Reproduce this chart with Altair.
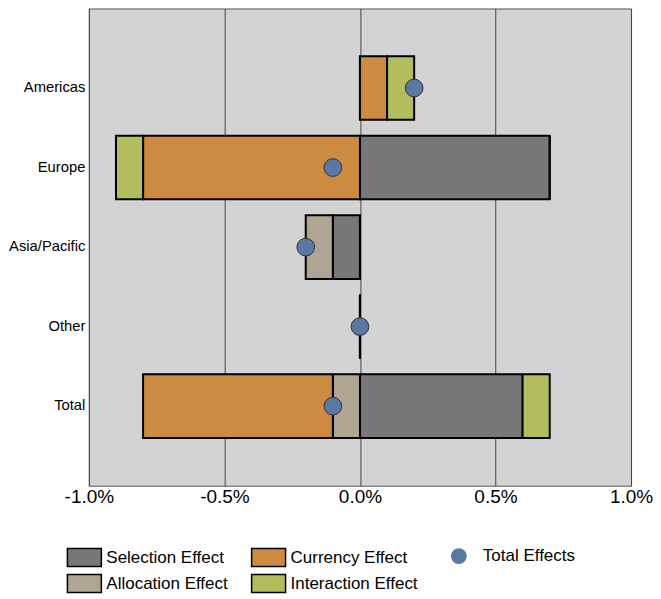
import altair as alt
import pandas as pd

regions = ["Americas", "Europe", "Asia/Pacific", "Other", "Total"]
selection = [0.0, 0.7, -0.1, 0.0, 0.6]
allocation = [0.0, 0.0, -0.1, 0.0, -0.1]
currency = [0.1, -0.8, 0.0, 0.0, -0.7]
interaction = [0.1, -0.1, 0.0, 0.0, 0.1]
total_effects = [0.2, -0.1, -0.2, 0.0, -0.1]

effect_names = ["Selection Effect", "Allocation Effect", "Currency Effect", "Interaction Effect"]
effect_colors = ["#787878", "#b0a592", "#cd8b41", "#b4bd5e"]
x_ticks = [-1.0, -0.5, 0.0, 0.5, 1.0]

rows = []
for i, r in enumerate(regions):
    for k, (name, vals) in enumerate(zip(effect_names, [selection, allocation, currency, interaction])):
        rows.append({"region": r, "effect": name, "value": vals[i], "ord": k})
bars_df = pd.DataFrame(rows)
pts_df = pd.DataFrame({"region": regions, "total": total_effects, "label": ["Total Effects"] * len(regions)})

FONT = "Liberation Sans"

y_enc = alt.Y("region:N", sort=regions, title=None,
              scale=alt.Scale(paddingInner=0.2, paddingOuter=0.6),
              axis=alt.Axis(ticks=False, domain=False, labelFontSize=14.8, labelPadding=4,
                            labelColor="black", labelFont=FONT, minExtent=80, maxExtent=80))
x_scale = alt.Scale(domain=[-1, 1], nice=False)
x_axis = alt.Axis(values=x_ticks,
                  labelExpr="(datum.value < 0 ? '-' : '') + format(abs(datum.value), '.1f') + '%'",
                  ticks=False, domain=False, grid=True, gridColor="#444", gridWidth=1,
                  labelFontSize=19, labelColor="black", labelFont=FONT, labelPadding=2,
                  labelFlush=False, labelOverlap=False)

bars = alt.Chart(bars_df).mark_bar(stroke="black", strokeWidth=2, opacity=1).encode(
    x=alt.X("value:Q", stack="zero", scale=x_scale, axis=x_axis, title=None),
    y=y_enc,
    order=alt.Order("ord:Q", sort="ascending"),
    color=alt.Color("effect:N",
                    scale=alt.Scale(domain=effect_names, range=effect_colors),
                    legend=alt.Legend(title=None, orient="none", legendX=-15.5, legendY=539,
                                      columns=2, columnPadding=20.5, rowPadding=2,
                                      symbolType="M-1.7,-0.9H1.7V0.9H-1.7Z", symbolSize=400,
                                      symbolStrokeColor="black", symbolStrokeWidth=1.5,
                                      symbolOpacity=1, labelOffset=11, labelFontSize=17,
                                      labelFont=FONT, labelColor="black", padding=0)),
)

points = alt.Chart(pts_df).mark_point(filled=True, size=314, color="#5b77a3", stroke="#333",
                                       strokeWidth=1, opacity=1).encode(
    x=alt.X("total:Q", scale=x_scale, title=None),
    y=alt.Y("region:N", sort=regions),
    shape=alt.Shape("label:N", scale=alt.Scale(range=["circle"]),
                    legend=alt.Legend(title=None, orient="none", legendX=362, legendY=540,
                                      symbolSize=254, symbolFillColor="#5b77a3",
                                      symbolStrokeColor="#333", symbolStrokeWidth=1,
                                      symbolOpacity=1, labelOffset=15.6, labelFontSize=17,
                                      labelFont=FONT, labelColor="black", padding=0)),
)

chart = alt.layer(bars, points).properties(
    width=543, height=478, padding={"left": 0, "top": 0, "right": 0, "bottom": 0}
).configure_view(fill="#d3d3d3", stroke="#555", strokeWidth=1)

chart.save("out.html", embed_options={"renderer": "svg", "actions": False})
